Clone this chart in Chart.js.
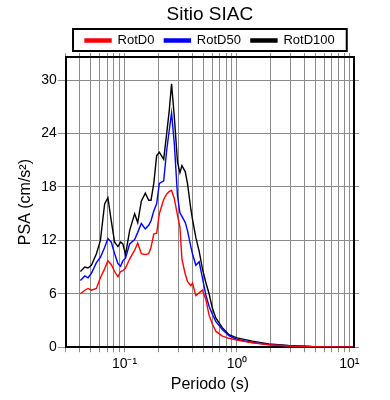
<!DOCTYPE html>
<html>
<head>
<meta charset="utf-8">
<script src="https://cdn.jsdelivr.net/npm/chart.js@4.4.0/dist/chart.umd.min.js"></script>
<style>
  html, body { margin: 0; padding: 0; background: #fff; }
  #wrap { width: 390px; height: 400px; }
</style>
</head>
<body>
<div id="wrap"><canvas id="psaChart"></canvas></div>
<script>
// periodo (s) y espectros de respuesta (cm/s2)
const periods = [0.0405, 0.0443, 0.0473, 0.0507, 0.0562, 0.061, 0.0665, 0.0711, 0.0762, 0.0816,
  0.0873, 0.0922, 0.0966, 0.102, 0.111, 0.123, 0.131, 0.141, 0.153, 0.164,
  0.172, 0.182, 0.193, 0.204, 0.223, 0.237, 0.25, 0.262, 0.277, 0.296,
  0.311, 0.324, 0.347, 0.363, 0.389, 0.402, 0.431, 0.461, 0.493, 0.528,
  0.565, 0.604, 0.648, 0.741, 0.849, 1.0, 1.37, 1.92, 2.88, 4.64,
  7.2, 10.8];
const rotD0 = [6.0, 6.4, 6.6, 6.4, 6.6, 7.8, 8.8, 9.7, 9.3, 8.5,
  7.9, 8.5, 8.6, 8.9, 9.9, 10.9, 11.7, 10.5, 10.4, 10.5,
  11.2, 12.7, 12.8, 15.0, 16.6, 17.2, 17.5, 17.6, 16.7, 14.8,
  13.5, 9.9, 8.2, 7.4, 6.9, 7.2, 5.8, 6.1, 6.4, 5.4,
  3.6, 2.6, 1.8, 1.24, 1.0, 0.8, 0.5, 0.28, 0.14, 0.06,
  0.03, 0.02];
const rotD50 = [7.5, 8.0, 7.8, 8.3, 9.5, 10.1, 11.2, 12.2, 11.8, 10.5,
  9.4, 9.1, 9.7, 10.0, 11.6, 12.1, 12.9, 13.9, 13.3, 13.7,
  14.2, 15.3, 16.1, 18.4, 18.7, 22.1, 24.4, 26.3, 22.9, 17.0,
  15.1, 14.7, 14.0, 13.1, 11.3, 10.5, 9.2, 9.6, 7.8, 5.9,
  4.6, 3.7, 2.9, 2.0, 1.3, 0.87, 0.53, 0.3, 0.15, 0.07,
  0.03, 0.02];
const rotD100 = [8.5, 9.0, 8.9, 9.2, 10.5, 12.0, 16.1, 16.8, 14.2, 11.8,
  11.3, 11.8, 11.6, 10.4, 13.1, 15.0, 14.0, 16.4, 17.3, 16.5,
  16.5, 18.4, 21.5, 21.9, 21.1, 24.0, 26.6, 29.6, 25.9, 20.8,
  19.6, 20.4, 19.7, 18.4, 15.5, 14.4, 12.3, 10.8, 8.8, 7.3,
  6.0, 4.4, 3.3, 2.2, 1.4, 1.05, 0.68, 0.37, 0.19, 0.08,
  0.04, 0.02];

const yTickValues = [0, 6, 12, 18, 24, 30];
const xLabelValues = [0.1, 1, 10];
const xLabelTexts = ['10⁻¹', '10⁰', '10¹'];
const xMin = 0.03, xMax = 11;
const yMin = 0, yMax = 32.6;

// lineas de la rejilla: 1..9 por decada
const xTickValues = [];
[0.01, 0.1, 1, 10].forEach(d => {
  for (let k = 1; k <= 9; k++) {
    const v = d * k;
    if (v >= xMin * 0.999 && v <= xMax) xTickValues.push(v);
  }
});

const FONT = "'Liberation Sans', Arial, Helvetica, sans-serif";
Chart.defaults.font.family = FONT;
Chart.defaults.color = '#000';

const gridGray = '#8c8c8c';
const toPoints = vals => vals.map((v, i) => ({ x: periods[i], y: v }));
const setTicks = vals => scale => { scale.ticks = vals.map(v => ({ value: v })); };

function xLabel(value) {
  for (let i = 0; i < xLabelValues.length; i++) {
    if (Math.abs(value / xLabelValues[i] - 1) < 1e-6) return xLabelTexts[i];
  }
  return '';
}

// centra titulo y leyenda sobre el area del grafico y dibuja el marco de la leyenda
const legendFrame = {
  id: 'legendFrame',
  afterLayout(chart) {
    const ca = chart.chartArea;
    const mid = (ca.left + ca.right) / 2;
    [chart.titleBlock, chart.legend].forEach(b => {
      if (!b) return;
      const dx = mid - (b.left + b.right) / 2;
      b.left += dx;
      b.right += dx;
    });
  },
  afterDraw(chart) {
    const boxes = chart.legend && chart.legend.legendHitBoxes;
    if (!boxes || !boxes.length) return;
    const first = boxes[0], last = boxes[boxes.length - 1];
    const l = first.left - 12;
    const r = last.left + last.width + 12;
    const t = first.top - 5;
    const h = first.height + 9;
    const ctx = chart.ctx;
    ctx.save();
    ctx.lineWidth = 2;
    ctx.strokeStyle = '#000';
    ctx.strokeRect(l, t, r - l, h);
    ctx.restore();
  }
};

const ctx = document.getElementById('psaChart').getContext('2d');
const psaChart = new Chart(ctx, {
  type: 'line',
  data: {
    datasets: [
      { label: 'RotD0', data: toPoints(rotD0), borderColor: '#ff0000', backgroundColor: '#ff0000' },
      { label: 'RotD50', data: toPoints(rotD50), borderColor: '#0000ff', backgroundColor: '#0000ff' },
      { label: 'RotD100', data: toPoints(rotD100), borderColor: '#000000', backgroundColor: '#000000' }
    ]
  },
  options: {
    responsive: true,
    maintainAspectRatio: false,
    animation: false,
    layout: { padding: { left: 0, right: 31, top: 0, bottom: 7 } },
    elements: {
      line: { borderWidth: 1.4, tension: 0, fill: false },
      point: { radius: 0, hoverRadius: 0 }
    },
    plugins: {
      title: {
        display: true,
        text: 'Sitio SIAC',
        font: { size: 19, weight: 'normal', lineHeight: 1.0 },
        padding: { top: 5, bottom: 0 }
      },
      legend: {
        display: true,
        position: 'top',
        maxHeight: 29,
        labels: {
          boxWidth: 26,
          boxHeight: 3,
          padding: 10,
          font: { size: 13 },
          color: '#000'
        }
      },
      tooltip: { enabled: false }
    },
    scales: {
      x: {
        type: 'logarithmic',
        position: 'bottom',
        min: xMin,
        max: xMax,
        afterBuildTicks: setTicks(xTickValues),
        ticks: {
          autoSkip: false,
          maxRotation: 0,
          padding: 4,
          font: { size: 14 },
          color: '#000',
          callback: v => xLabel(v)
        },
        grid: { color: gridGray, lineWidth: 1, tickLength: 5, tickColor: gridGray },
        border: { display: true, color: '#000', width: 2 },
        title: { display: true, text: 'Periodo (s)', font: { size: 16, lineHeight: 1.0 }, padding: { top: 0, bottom: 0 } }
      },
      x2: {
        type: 'logarithmic',
        position: 'top',
        min: xMin,
        max: xMax,
        afterBuildTicks: setTicks(xTickValues),
        ticks: { display: false },
        grid: { drawOnChartArea: false, tickLength: 4, color: gridGray },
        border: { display: true, color: '#000', width: 2 }
      },
      y: {
        type: 'linear',
        position: 'left',
        min: yMin,
        max: yMax,
        afterBuildTicks: setTicks(yTickValues),
        ticks: { padding: 1, font: { size: 14 }, color: '#000' },
        grid: { color: gridGray, lineWidth: 1, tickLength: 8, tickColor: gridGray },
        border: { display: true, color: '#000', width: 2 },
        title: { display: true, text: 'PSA (cm/s²)', font: { size: 16 }, padding: { top: 16, bottom: 5 } }
      },
      y2: {
        type: 'linear',
        position: 'right',
        min: yMin,
        max: yMax,
        afterBuildTicks: setTicks(yTickValues),
        ticks: { display: false },
        grid: { drawOnChartArea: false, tickLength: 5, color: gridGray },
        border: { display: true, color: '#000', width: 2 }
      }
    }
  },
  plugins: [legendFrame]
});
</script>
</body>
</html>
